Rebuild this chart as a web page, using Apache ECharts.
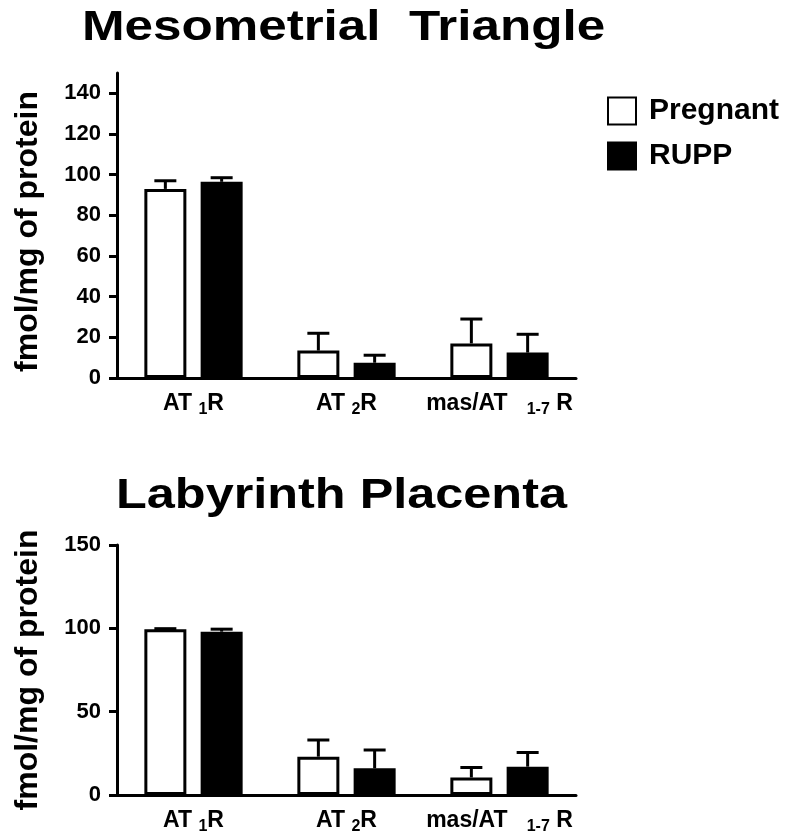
<!DOCTYPE html>
<html>
<head>
<meta charset="utf-8">
<script src="https://cdn.jsdelivr.net/npm/echarts@6/dist/echarts.min.js"></script>
<style>
html,body{margin:0;padding:0;background:#fff;}
#chart{width:800px;height:838px;}
</style>
</head>
<body>
<div id="chart"></div>
<script>
// ---- data ----
const categories = ['AT1R', 'AT2R', 'mas/AT1-7R'];
const labelMain = ['AT ', 'AT ', 'mas/AT   '];
const labelSub = ['1', '2', '1-7'];
const labelEnd = ['R', 'R', ' R'];
const seriesNames = ['Pregnant', 'RUPP'];
const titles = ['Mesometrial  Triangle', 'Labyrinth Placenta'];
const yName = 'fmol/mg of protein';

const topPregnant = [93, 13.5, 17];
const topPregnantErr = [4, 8.5, 12];
const topRupp = [96.5, 7.5, 12.5];
const topRuppErr = [2, 3.7, 9];

const botPregnant = [99.5, 23, 10.5];
const botPregnantErr = [0.3, 10, 6];
const botRupp = [98, 16, 17];
const botRuppErr = [1.5, 11, 8.5];

const topTicks = [0, 20, 40, 60, 80, 100, 120, 140];
const topMax = 150;
const botTicks = [0, 50, 100, 150];
const botMax = 150;

// ---- styles ----
const FONT = '"Liberation Sans", Arial, sans-serif';
const BAR_W = 42;
const BAR_GAP = 0.34;
const offsetPx = (BAR_W + BAR_W * BAR_GAP) / 2;

function errSeries(name, gridIdx, vals, errs, sign) {
  return {
    type: 'custom',
    name: name,
    xAxisIndex: gridIdx,
    yAxisIndex: gridIdx,
    z: 1,
    data: vals.map((v, i) => [i, v, errs[i]]),
    renderItem: function (params, api) {
      const c = api.value(0), v = api.value(1), e = api.value(2);
      const p0 = api.coord([c, v]);
      const p1 = api.coord([c, v + e]);
      const x = p0[0] + sign * offsetPx;
      const capHalf = 11;
      const st = { stroke: '#000', lineWidth: 3 };
      return {
        type: 'group',
        children: [
          { type: 'line', shape: { x1: x, y1: p0[1], x2: x, y2: p1[1] }, style: st },
          { type: 'line', shape: { x1: x - capHalf, y1: p1[1], x2: x + capHalf, y2: p1[1] }, style: st }
        ]
      };
    },
    tooltip: { show: false }
  };
}

function xAxisDef(gridIdx) {
  return {
    type: 'category',
    gridIndex: gridIdx,
    data: categories,
    axisLine: { lineStyle: { color: '#000', width: 3 } },
    axisTick: { alignWithLabel: true, length: 8, lineStyle: { color: '#000', width: 3 } },
    axisLabel: {
      interval: 0,
      margin: 14,
      formatter: function (v, i) {
        return '{a|' + labelMain[i] + '}{s|' + labelSub[i] + '}{a|' + labelEnd[i] + '}';
      },
      rich: {
        a: { fontFamily: FONT, fontWeight: 'bold', fontSize: 23, color: '#000', lineHeight: 24, verticalAlign: 'top' },
        s: { fontFamily: FONT, fontWeight: 'bold', fontSize: 16, color: '#000', lineHeight: 24, verticalAlign: 'top', padding: [10, 0, 0, 0] }
      }
    }
  };
}

function yAxisDef(gridIdx, ticks, max, namePad) {
  return {
    type: 'value',
    gridIndex: gridIdx,
    min: 0,
    max: max,
    name: yName,
    nameLocation: 'middle',
    nameRotate: 90,
    nameGap: 73,
    nameTextStyle: { fontFamily: FONT, fontWeight: 'bold', fontSize: 32, color: '#000', padding: [0, namePad, 0, 0] },
    splitLine: { show: false },
    axisLine: { show: true, lineStyle: { color: '#000', width: 3 } },
    axisTick: { show: true, length: 8, customValues: ticks, lineStyle: { color: '#000', width: 3 } },
    axisLabel: { customValues: ticks, margin: 16, fontFamily: FONT, fontWeight: 'bold', fontSize: 22, color: '#000' }
  };
}

function barSeries(name, gridIdx, vals, fill) {
  return {
    type: 'bar',
    name: name,
    xAxisIndex: gridIdx,
    yAxisIndex: gridIdx,
    data: vals,
    barWidth: BAR_W,
    barGap: (BAR_GAP * 100) + '%',
    z: 2,
    itemStyle: { color: fill, borderColor: '#000', borderWidth: 3 }
  };
}

function titleText(text, cx, cy, size, sx) {
  return {
    type: 'text',
    x: cx, y: cy,
    scaleX: sx,
    silent: true,
    style: {
      text: text, x: 0, y: 0,
      align: 'center', verticalAlign: 'middle',
      fontFamily: FONT, fontWeight: 'bold', fontSize: size, fill: '#000'
    }
  };
}

const chart = echarts.init(document.getElementById('chart'), null, { renderer: 'canvas' });
chart.setOption({
  backgroundColor: '#fff',
  animation: false,
  graphic: [
    titleText(titles[0], 343.5, 28, 43, 1.19),
    titleText(titles[1], 341.5, 496, 42, 1.2)
  ],
  legend: {
    data: seriesNames,
    orient: 'vertical',
    left: 602,
    top: 91,
    itemWidth: 28,
    itemHeight: 27,
    itemGap: 15,
    icon: 'rect',
    textStyle: { fontFamily: FONT, fontWeight: 'bold', fontSize: 30, lineHeight: 27, color: '#000', padding: [0, 0, 0, 8] }
  },
  grid: [
    { left: 117, right: 224, top: 73, bottom: 460 },
    { left: 117, right: 224, top: 545, bottom: 43 }
  ],
  xAxis: [xAxisDef(0), xAxisDef(1)],
  yAxis: [yAxisDef(0, topTicks, topMax, 12), yAxisDef(1, botTicks, botMax, 0)],
  series: [
    barSeries(seriesNames[0], 0, topPregnant, '#fff'),
    barSeries(seriesNames[1], 0, topRupp, '#000'),
    errSeries(seriesNames[0], 0, topPregnant, topPregnantErr, -1),
    errSeries(seriesNames[1], 0, topRupp, topRuppErr, 1),
    barSeries(seriesNames[0], 1, botPregnant, '#fff'),
    barSeries(seriesNames[1], 1, botRupp, '#000'),
    errSeries(seriesNames[0], 1, botPregnant, botPregnantErr, -1),
    errSeries(seriesNames[1], 1, botRupp, botRuppErr, 1)
  ]
});
</script>
</body>
</html>
